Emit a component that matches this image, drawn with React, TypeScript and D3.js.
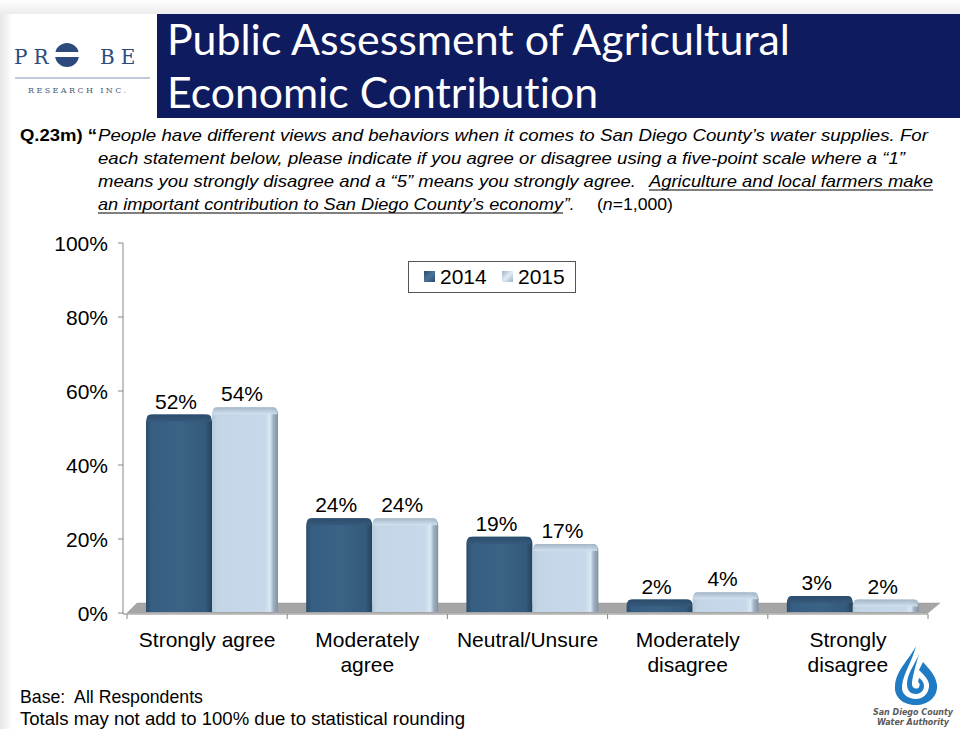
import React from "react";
import * as d3 from "d3";

const categories: string[][] = [
  ["Strongly agree"],
  ["Moderately", "agree"],
  ["Neutral/Unsure"],
  ["Moderately", "disagree"],
  ["Strongly", "disagree"],
];
const seriesNames = ["2014", "2015"];
const values2014 = [52, 24, 19, 2, 3];
const values2015 = [54, 24, 17, 4, 2];
const yTicks = [0, 20, 40, 60, 80, 100];

const W = 960;
const H = 729;

export default function App() {
  const y = d3.scaleLinear().domain([0, 100]).range([613, 243]);
  const x = d3
    .scaleBand<number>()
    .domain(categories.map((_, i) => i))
    .range([127, 928])
    .padding(0);
  const xs = d3.scaleBand<string>().domain(seriesNames).range([19, 151]).padding(0);
  const seriesValues = [values2014, values2015];
  const bw = xs.bandwidth();
  const floorY = 612;
  const sans = "Liberation Sans, Arial, sans-serif";
  const narrow = "'Liberation Sans Narrow', 'Arial Narrow', 'Liberation Sans', Arial, sans-serif";
  const pre = { whiteSpace: "pre" as const };

  const barPath = (x0: number, x1: number, top: number, bottom: number, r: number) => {
    const rr = Math.min(r, (bottom - top) / 2);
    const p = d3.path();
    p.moveTo(x0, bottom);
    p.lineTo(x0, top + rr);
    p.quadraticCurveTo(x0, top, x0 + rr, top);
    p.lineTo(x1 - rr, top);
    p.quadraticCurveTo(x1, top, x1, top + rr);
    p.lineTo(x1, bottom);
    p.closePath();
    return p.toString();
  };

  return (
    <svg
      width={W}
      height={H}
      style={{ position: "absolute", left: 0, top: 0, background: "#ffffff" }}
      xmlns="http://www.w3.org/2000/svg"
    >
      <defs>
        <linearGradient id="leftEdge" x1="0" x2="1" y1="0" y2="0">
          <stop offset="0" stopColor="#e6e6e6" />
          <stop offset="1" stopColor="#ffffff" />
        </linearGradient>
        <linearGradient id="topEdge" x1="0" x2="0" y1="0" y2="1">
          <stop offset="0" stopColor="#ffffff" />
          <stop offset="1" stopColor="#ececec" />
        </linearGradient>
        <linearGradient id="dark" x1="0" x2="1" y1="0" y2="0">
          <stop offset="0" stopColor="#2b4d6c" />
          <stop offset="0.08" stopColor="#365e82" />
          <stop offset="0.5" stopColor="#3a6386" />
          <stop offset="0.9" stopColor="#345a7c" />
          <stop offset="1" stopColor="#24425e" />
        </linearGradient>
        <linearGradient id="light" x1="0" x2="1" y1="0" y2="0">
          <stop offset="0" stopColor="#b7cbdd" />
          <stop offset="0.08" stopColor="#c3d5e6" />
          <stop offset="0.8" stopColor="#c6d8e9" />
          <stop offset="0.88" stopColor="#dbe8f4" />
          <stop offset="0.93" stopColor="#9fb1c3" />
          <stop offset="1" stopColor="#7f91a3" />
        </linearGradient>
        <linearGradient id="darkTop" x1="0" x2="0" y1="0" y2="1">
          <stop offset="0" stopColor="#2a4b6a" />
          <stop offset="1" stopColor="#36597a" />
        </linearGradient>
        <linearGradient id="lightTop" x1="0" x2="0" y1="0" y2="1">
          <stop offset="0" stopColor="#9fb2c4" />
          <stop offset="1" stopColor="#d5e3f0" />
        </linearGradient>
        <linearGradient id="legDark" x1="0" x2="1" y1="0" y2="1">
          <stop offset="0" stopColor="#2b4d6c" />
          <stop offset="0.5" stopColor="#4a7398" />
          <stop offset="1" stopColor="#2b4d6c" />
        </linearGradient>
        <linearGradient id="legLight" x1="0" x2="1" y1="0" y2="1">
          <stop offset="0" stopColor="#9fb2c4" />
          <stop offset="0.5" stopColor="#e0ebf5" />
          <stop offset="1" stopColor="#9fb2c4" />
        </linearGradient>
      </defs>

      {/* background edges */}
      <rect x={0} y={0} width={W} height={14} fill="url(#topEdge)" />
      <rect x={0} y={14} width={12} height={H - 14} fill="url(#leftEdge)" />

      {/* title banner */}
      <rect x={157} y={14} width={W - 157} height={104} fill="#0f1b5f" />
      <g style={{ fontVariantLigatures: "none" }}>
        <text x={167} y={55} fill="#ffffff" fontFamily="Lato, 'Open Sans', sans-serif" fontSize={42} textLength={623} lengthAdjust="spacingAndGlyphs">
          Public Assessment of Agricultural
        </text>
        <text x={167} y={108} fill="#ffffff" fontFamily="Lato, 'Open Sans', sans-serif" fontSize={42} textLength={431} lengthAdjust="spacingAndGlyphs">
          Economic Contribution
        </text>
      </g>

      {/* PROBE logo */}
      <g fontFamily="'DejaVu Serif', 'Liberation Serif', serif" fill="#2c4a7c">
        <text x={14} y={64} fontSize={20} letterSpacing={6}>PR</text>
        <text x={100} y={64} fontSize={20} letterSpacing={6}>BE</text>
        <circle cx={67} cy={55} r={12} fill="#2c4a7c" />
        <rect x={54} y={52} width={26} height={5} fill="#ffffff" />
        <line x1={15} x2={150} y1={78} y2={78} stroke="#7f94b3" strokeWidth={1} />
        <text x={28} y={93} fontSize={8} letterSpacing={2.4} fill="#4a5a78">RESEARCH INC.</text>
      </g>

      {/* question text */}
      <g fontFamily={narrow} fontSize={17} fill="#000" style={pre}>
        <text x={20} y={141} fontWeight="bold" textLength={77} lengthAdjust="spacingAndGlyphs">
          Q.23m) “
        </text>
        <text x={98} y={141} fontStyle="italic" textLength={830} lengthAdjust="spacingAndGlyphs">
          People have different views and behaviors when it comes to San Diego County’s water supplies.  For
        </text>
        <text x={98} y={164} fontStyle="italic" textLength={807} lengthAdjust="spacingAndGlyphs">
          each statement below, please indicate if you agree or disagree using a five-point scale where a “1”
        </text>
        <text x={98} y={187} fontStyle="italic" textLength={538} lengthAdjust="spacingAndGlyphs">
          means you strongly disagree and a “5” means you strongly agree.
        </text>
        <text x={649} y={187} fontStyle="italic" textLength={284} lengthAdjust="spacingAndGlyphs">
          Agriculture and local farmers make
        </text>
        <line x1={649} x2={933} y1={190} y2={190} stroke="#000" strokeWidth={1} />
        <text x={98} y={210} fontStyle="italic" textLength={465} lengthAdjust="spacingAndGlyphs">
          an important contribution to San Diego County’s economy
        </text>
        <line x1={98} x2={563} y1={213} y2={213} stroke="#000" strokeWidth={1} />
        <text x={564} y={210} fontStyle="italic">”.</text>
        <text x={597} y={210} textLength={76} lengthAdjust="spacingAndGlyphs">
          (<tspan fontStyle="italic">n</tspan>=1,000)
        </text>
      </g>

      {/* floor */}
      <polygon points="127,613 137,603 940,603 928,613" fill="#a6a6a6" stroke="#9a9a9a" strokeWidth={0.5} />

      {/* axes */}
      <line x1={123} x2={123} y1={243} y2={614} stroke="#868686" strokeWidth={1} />
      {yTicks.map((t) => (
        <g key={t}>
          <line x1={118} x2={123} y1={y(t)} y2={y(t)} stroke="#868686" />
          <text x={108} y={y(t) + 7.5} textAnchor="end" fontFamily={sans} fontSize={21} fill="#000">
            {t}%
          </text>
        </g>
      ))}
      <line x1={123} x2={928} y1={614} y2={614} stroke="#868686" strokeWidth={1} />
      {categories.map((_, i) => (
        <line key={i} x1={x(i)!} x2={x(i)!} y1={614} y2={619} stroke="#868686" />
      ))}
      <line x1={928} x2={928} y1={614} y2={619} stroke="#868686" />

      {/* bars */}
      {categories.map((_, i) => (
        <g key={i}>
          {seriesNames.map((s, si) => {
            const v = seriesValues[si][i];
            const x0 = x(i)! + xs(s)!;
            const x1 = x0 + bw;
            const top = y(v) - 6;
            const isDark = si === 0;
            return (
              <g key={s}>
                <path d={barPath(x0, x1, top, floorY, 7)} fill={isDark ? "url(#dark)" : "url(#light)"} />
                <path
                  d={barPath(x0 + 1, x1 - 1, top, Math.min(top + 7, floorY), 6)}
                  fill={isDark ? "url(#darkTop)" : "url(#lightTop)"}
                  opacity={0.9}
                />
              </g>
            );
          })}
        </g>
      ))}

      {/* value labels */}
      {categories.map((_, i) => (
        <g key={i}>
          {seriesNames.map((s, si) => {
            const v = seriesValues[si][i];
            const cx = x(i)! + xs(s)! + bw / 2 - 3;
            return (
              <text key={s} x={cx} y={y(v) - 12} textAnchor="middle" fontFamily={sans} fontSize={21} fill="#000">
                {v}%
              </text>
            );
          })}
        </g>
      ))}

      {/* category labels */}
      {categories.map((lines, i) => (
        <text key={i} textAnchor="middle" fontFamily={sans} fontSize={21} fill="#000">
          {lines.map((l, li) => (
            <tspan key={li} x={x(i)! + x.bandwidth() / 2} y={647 + li * 25}>
              {l}
            </tspan>
          ))}
        </text>
      ))}

      {/* legend */}
      <rect x={408.5} y={261.5} width={167} height={31} fill="#fff" stroke="#555" strokeWidth={1} />
      {seriesNames.map((s, si) => (
        <g key={s}>
          <rect x={424 + si * 78} y={271} width={11} height={11} fill={si === 0 ? "url(#legDark)" : "url(#legLight)"} />
          <text x={440 + si * 78} y={284} fontFamily={sans} fontSize={21} fill="#000">
            {s}
          </text>
        </g>
      ))}

      {/* footnotes */}
      <text x={20} y={703} fontFamily={sans} fontSize={17.7} fill="#000" style={pre}>
        Base:  All Respondents
      </text>
      <text x={20} y={725} fontFamily={sans} fontSize={17.7} fill="#000" textLength={445} lengthAdjust="spacingAndGlyphs">
        Totals may not add to 100% due to statistical rounding
      </text>

      {/* San Diego County Water Authority logo */}
      <g>
        <path
          d="M916,646 C909,660 896,670 895,686 C894,698 904,705 916,705 C928,705 938,697 937,685 C936,675 928,668 923,662 L919,670 C925,676 930,681 929,687 C928,695 922,699 916,699 C908,699 901,694 902,686 C903,674 912,662 916,646 Z"
          fill="#1f7bc4"
        />
        <path
          d="M919,654 C915,664 907,674 907,684 C907,691 911,694 916,694 C921,694 924,690 924,686 C924,682 921,679 919,678 L918,682 C920,683 920,685 919,687 C918,689 915,689 913,687 C911,684 912,678 919,654 Z"
          fill="#1f7bc4"
        />
        <text x={913} y={715} textAnchor="middle" fontFamily="'DejaVu Sans', sans-serif" fontStyle="italic" fontWeight="bold" fontSize={8.5} fill="#5a5a5a" textLength={80} lengthAdjust="spacingAndGlyphs">
          San Diego County
        </text>
        <text x={913} y={725} textAnchor="middle" fontFamily="'DejaVu Sans', sans-serif" fontStyle="italic" fontWeight="bold" fontSize={8.5} fill="#5a5a5a" textLength={72} lengthAdjust="spacingAndGlyphs">
          Water Authority
        </text>
      </g>
    </svg>
  );
}
